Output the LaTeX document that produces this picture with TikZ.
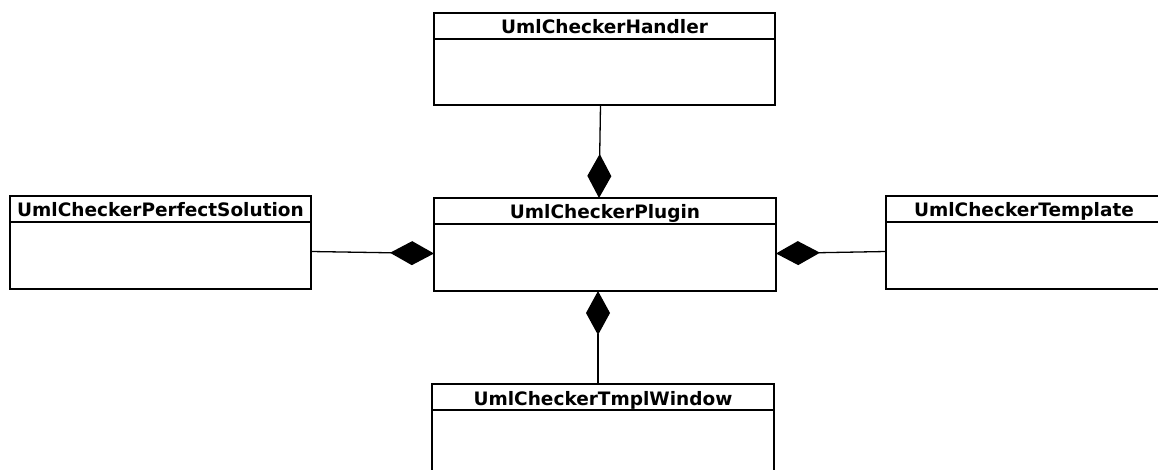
\documentclass[tikz,border=0pt]{standalone}
\usepackage{fontspec}
\setmainfont{DejaVu Sans}
\usetikzlibrary{positioning,arrows.meta}

\tikzset{
  classhead/.style={draw, line width=1.3pt, outer sep=0pt, inner sep=0pt,
    minimum height=26pt, text height=16pt, text depth=0pt,
    font=\fontsize{18.5}{20}\selectfont\bfseries},
  classbody/.style={draw, line width=1.3pt, outer sep=0pt, inner sep=0pt,
    minimum height=67pt},
  comp/.style={line width=1.3pt, {Diamond[length=44pt,width=24pt]}-}
}

\begin{document}
\begin{tikzpicture}[x=1pt,y=-1pt]
    \useasboundingbox (0,0) rectangle (1158,470);
    \clip (0,0) rectangle (1158,470);
    %classi
    \node[classhead, minimum width=341pt, anchor=north west] (handler) at (434,13) {UmlCheckerHandler};
    \node[classbody, minimum width=341pt, minimum height=66pt, below=0pt of handler] (handlerbody) {};
    \node[classhead, minimum width=342pt, anchor=north west] (plugin) at (434,198) {UmlCheckerPlugin};
    \node[classbody, minimum width=342pt, below=0pt of plugin] (pluginbody) {};
    \node[classhead, minimum width=301pt, anchor=north west] (perfect) at (10,196) {UmlCheckerPerfectSolution};
    \node[classbody, minimum width=301pt, below=0pt of perfect] (perfectbody) {};
    \node[classhead, minimum width=276pt, anchor=north west] (template) at (886,196) {UmlCheckerTemplate};
    \node[classbody, minimum width=276pt, below=0pt of template] (templatebody) {};
    \node[classhead, minimum width=342pt, anchor=north west] (window) at (432,384) {UmlCheckerTmplWindow};
    \node[classbody, minimum width=342pt, below=0pt of window] (windowbody) {};
    %composizioni
    \draw[comp] ([xshift=-6pt]plugin.north) -- ([xshift=-4pt]handlerbody.south);
    \draw[comp] ([xshift=-7pt]pluginbody.south) -- ([xshift=-5pt]window.north);
    \draw[comp] ([yshift=4pt]pluginbody.west) -- ([yshift=4pt]perfectbody.east);
    \draw[comp] ([yshift=4pt]pluginbody.east) -- ([yshift=4pt]templatebody.west);
\end{tikzpicture}
\end{document}
